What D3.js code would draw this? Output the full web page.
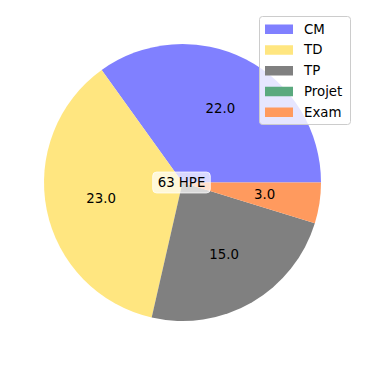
<!DOCTYPE html>
<html><head><meta charset="utf-8">
<script src="https://cdn.jsdelivr.net/npm/d3@7"></script>
<style>body{margin:0;background:#fff}svg{display:block}text{font-family:"DejaVu Sans",sans-serif}</style>
</head><body>
<svg id="c" width="366" height="366"></svg>
<script>
const categories = ["CM","TD","TP","Projet","Exam"];
const values = [22,23,15,0,3];
const colors = ["#8080ff","#ffe680","#808080","#5aa97e","#ff9a5e"];
const centerLabel = "63 HPE";

const svg = d3.select("#c");
const cx = 182.5, cy = 182.5, r = 138.5;
const g = svg.append("g").attr("transform",`translate(${cx},${cy})`);
const pie = d3.pie().sort(null).startAngle(Math.PI/2).endAngle(Math.PI/2 - 2*Math.PI);
const arcs = pie(values);
const arc = d3.arc().innerRadius(0).outerRadius(r);
g.selectAll("path.s").data(arcs).enter().append("path")
  .attr("d", d => d.startAngle===d.endAngle ? null : arc(d))
  .attr("fill",(d,i)=>colors[i]);
const lab = d3.arc().innerRadius(r*0.6).outerRadius(r*0.6);
g.selectAll("text.l").data(arcs.filter(d=>d.value>0)).enter().append("text")
  .attr("transform", d=>`translate(${lab.centroid(d)})`)
  .attr("text-anchor","middle").attr("dominant-baseline","central")
  .attr("font-size","13.33px").attr("fill","#000")
  .text(d=>d.value.toFixed(1));

// center label
const ct = g.append("text").attr("text-anchor","middle").attr("dominant-baseline","central")
  .attr("font-size","13.33px").attr("x",-1).attr("y",0).text(centerLabel);
const bb = ct.node().getBBox();
g.insert("rect", "text").attr("x",bb.x-5).attr("y",bb.y-3).attr("width",bb.width+10).attr("height",bb.height+6)
  .attr("rx",4).attr("fill","#fff").attr("fill-opacity",0.7).attr("stroke","#fff").attr("stroke-opacity",0.7);
ct.raise();

// legend
const lg = svg.append("g").attr("transform","translate(259,16)");
lg.append("rect").attr("x",0.5).attr("y",0.5).attr("width",91).attr("height",108).attr("rx",3)
  .attr("fill","#fff").attr("fill-opacity",0.8).attr("stroke","#cccccc");
const rowY = d3.scalePoint().domain(categories).range([13,96]);
categories.forEach((c,i)=>{
  lg.append("rect").attr("x",6).attr("y",rowY(c)-4.5).attr("width",28).attr("height",9.5).attr("fill",colors[i]);
  lg.append("text").attr("x",45).attr("y",rowY(c)).attr("dominant-baseline","central")
    .attr("font-size","13.33px").text(c);
});
</script>
</body></html>
